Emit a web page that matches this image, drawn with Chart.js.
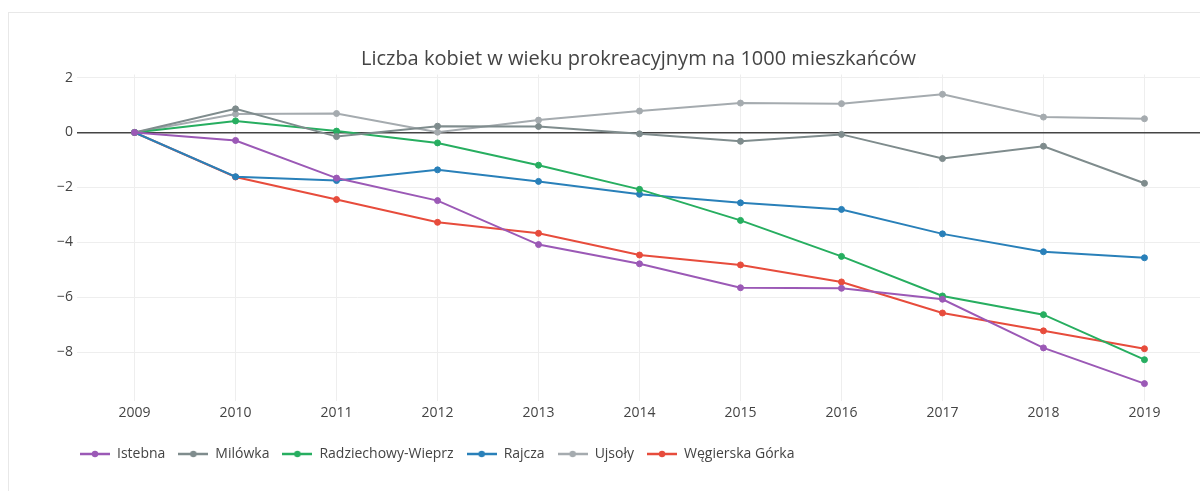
<!DOCTYPE html>
<html>
<head>
<meta charset="utf-8">
<script src="https://cdn.jsdelivr.net/npm/chart.js@4"></script>
<style>
html,body{margin:0;padding:0;background:#fff;width:1200px;height:491px;overflow:hidden;}
#card{position:absolute;left:8px;top:12px;width:1300px;height:600px;border:1px solid #e8e8e8;box-sizing:border-box;}
#wrap{position:absolute;left:0;top:0;width:1200px;height:491px;}
</style>
</head>
<body>
<div id="card"></div>
<div id="wrap"><canvas id="c" width="1200" height="491"></canvas></div>
<script>
const years = [2009,2010,2011,2012,2013,2014,2015,2016,2017,2018,2019];
const yTicks = [2,0,-2,-4,-6,-8];
const istebna   = [0,-0.29,-1.66,-2.48,-4.08,-4.78,-5.65,-5.67,-6.07,-7.84,-9.14];
const milowka   = [0,0.86,-0.15,0.23,0.22,-0.05,-0.32,-0.07,-0.95,-0.50,-1.85];
const radziech  = [0,0.42,0.05,-0.38,-1.19,-2.07,-3.20,-4.51,-5.95,-6.63,-8.27];
const rajcza    = [0,-1.61,-1.75,-1.36,-1.78,-2.25,-2.56,-2.80,-3.69,-4.34,-4.56];
const ujsoly    = [0,0.67,0.69,0.01,0.45,0.78,1.07,1.05,1.39,0.56,0.50];
const wegierska = [0,-1.62,-2.44,-3.27,-3.67,-4.46,-4.82,-5.44,-6.57,-7.22,-7.87];

const seriesNames = ['Istebna','Milówka','Radziechowy-Wieprz','Rajcza','Ujsoły','Węgierska Górka'];
const seriesData = [istebna,milowka,radziech,rajcza,ujsoly,wegierska];
const colors = ['#9b59b6','#7f8c8d','#27ae60','#2980b9','#a5abaf','#e74c3c'];

function legendIcon(color){
  const c = document.createElement('canvas');
  c.width = 30; c.height = 10;
  const g = c.getContext('2d');
  g.strokeStyle = color; g.lineWidth = 2.5;
  g.beginPath(); g.moveTo(0,5); g.lineTo(30,5); g.stroke();
  g.fillStyle = color; g.beginPath(); g.arc(15,5,3.2,0,Math.PI*2); g.fill();
  return c;
}

const datasets = seriesNames.map((n,i)=>({
  label:n,
  data: years.map((y,j)=>({x:y,y:seriesData[i][j]})),
  borderColor:colors[i], backgroundColor:colors[i],
  pointBackgroundColor:colors[i], pointBorderColor:colors[i],
  borderWidth:2, pointRadius:3, pointBorderWidth:1, pointHoverRadius:4, tension:0,
  pointStyle: 'circle'
}));
const icons = colors.map(legendIcon);

const legendShift = {
  id:'legendShift',
  afterLayout(chart){
    const lg = chart.legend;
    if(!lg) return;
    lg.left = 67; // first item at 80 (padding 13)
    lg.top += 10;
    lg.bottom += 10;
  }
};

const FONT = '"Open Sans", "DejaVu Sans", sans-serif';
new Chart(document.getElementById('c'), {
  type:'line',
  data:{datasets},
  plugins:[legendShift],
  options:{
    responsive:false, animation:false,
    layout:{autoPadding:false,padding:{left:0,right:0,top:0,bottom:30}},
    plugins:{
      title:{display:true,text:'Liczba kobiet w wieku prokreacyjnym na 1000 mieszkańców',
        color:'#444',font:{family:FONT,size:20,weight:'normal',lineHeight:1.2},fullSize:false,
        padding:{top:47,bottom:3.5}},
      legend:{position:'bottom',align:'start',
        labels:{usePointStyle:true,pointStyleWidth:30,color:'#444',font:{family:FONT,size:14},padding:13,
          generateLabels:(chart)=>chart.data.datasets.map((d,i)=>({
            text:d.label,pointStyle:icons[i],fillStyle:colors[i],strokeStyle:colors[i],
            lineWidth:0,datasetIndex:i,hidden:false,fontColor:'#444'}))}},
      tooltip:{enabled:false}
    },
    scales:{
      x:{type:'linear',min:2008.43,max:2019.55,
        afterBuildTicks:(s)=>{s.ticks=years.map(v=>({value:v}));},
        ticks:{color:'#444',font:{family:FONT,size:14},padding:3,maxRotation:0,autoSkip:false,
          callback:(v)=>String(v)},
        grid:{color:'#eeeeee',drawTicks:false},border:{display:false}},
      y:{min:-9.78,max:2.11,
        afterBuildTicks:(s)=>{s.ticks=yTicks.map(v=>({value:v}));},
        afterFit:(s)=>{s.width=77;},
        ticks:{color:'#444',font:{family:FONT,size:14},padding:4,
          callback:(v)=> v<0 ? '\u2212'+Math.abs(v) : String(v)},
        grid:{drawTicks:false,
          color:(ctx)=>ctx.tick && ctx.tick.value===0 ? '#444' : '#eeeeee',
          lineWidth:(ctx)=>ctx.tick && ctx.tick.value===0 ? 1.5 : 1},
        border:{display:false}}
    }
  }
});
</script>
</body>
</html>
